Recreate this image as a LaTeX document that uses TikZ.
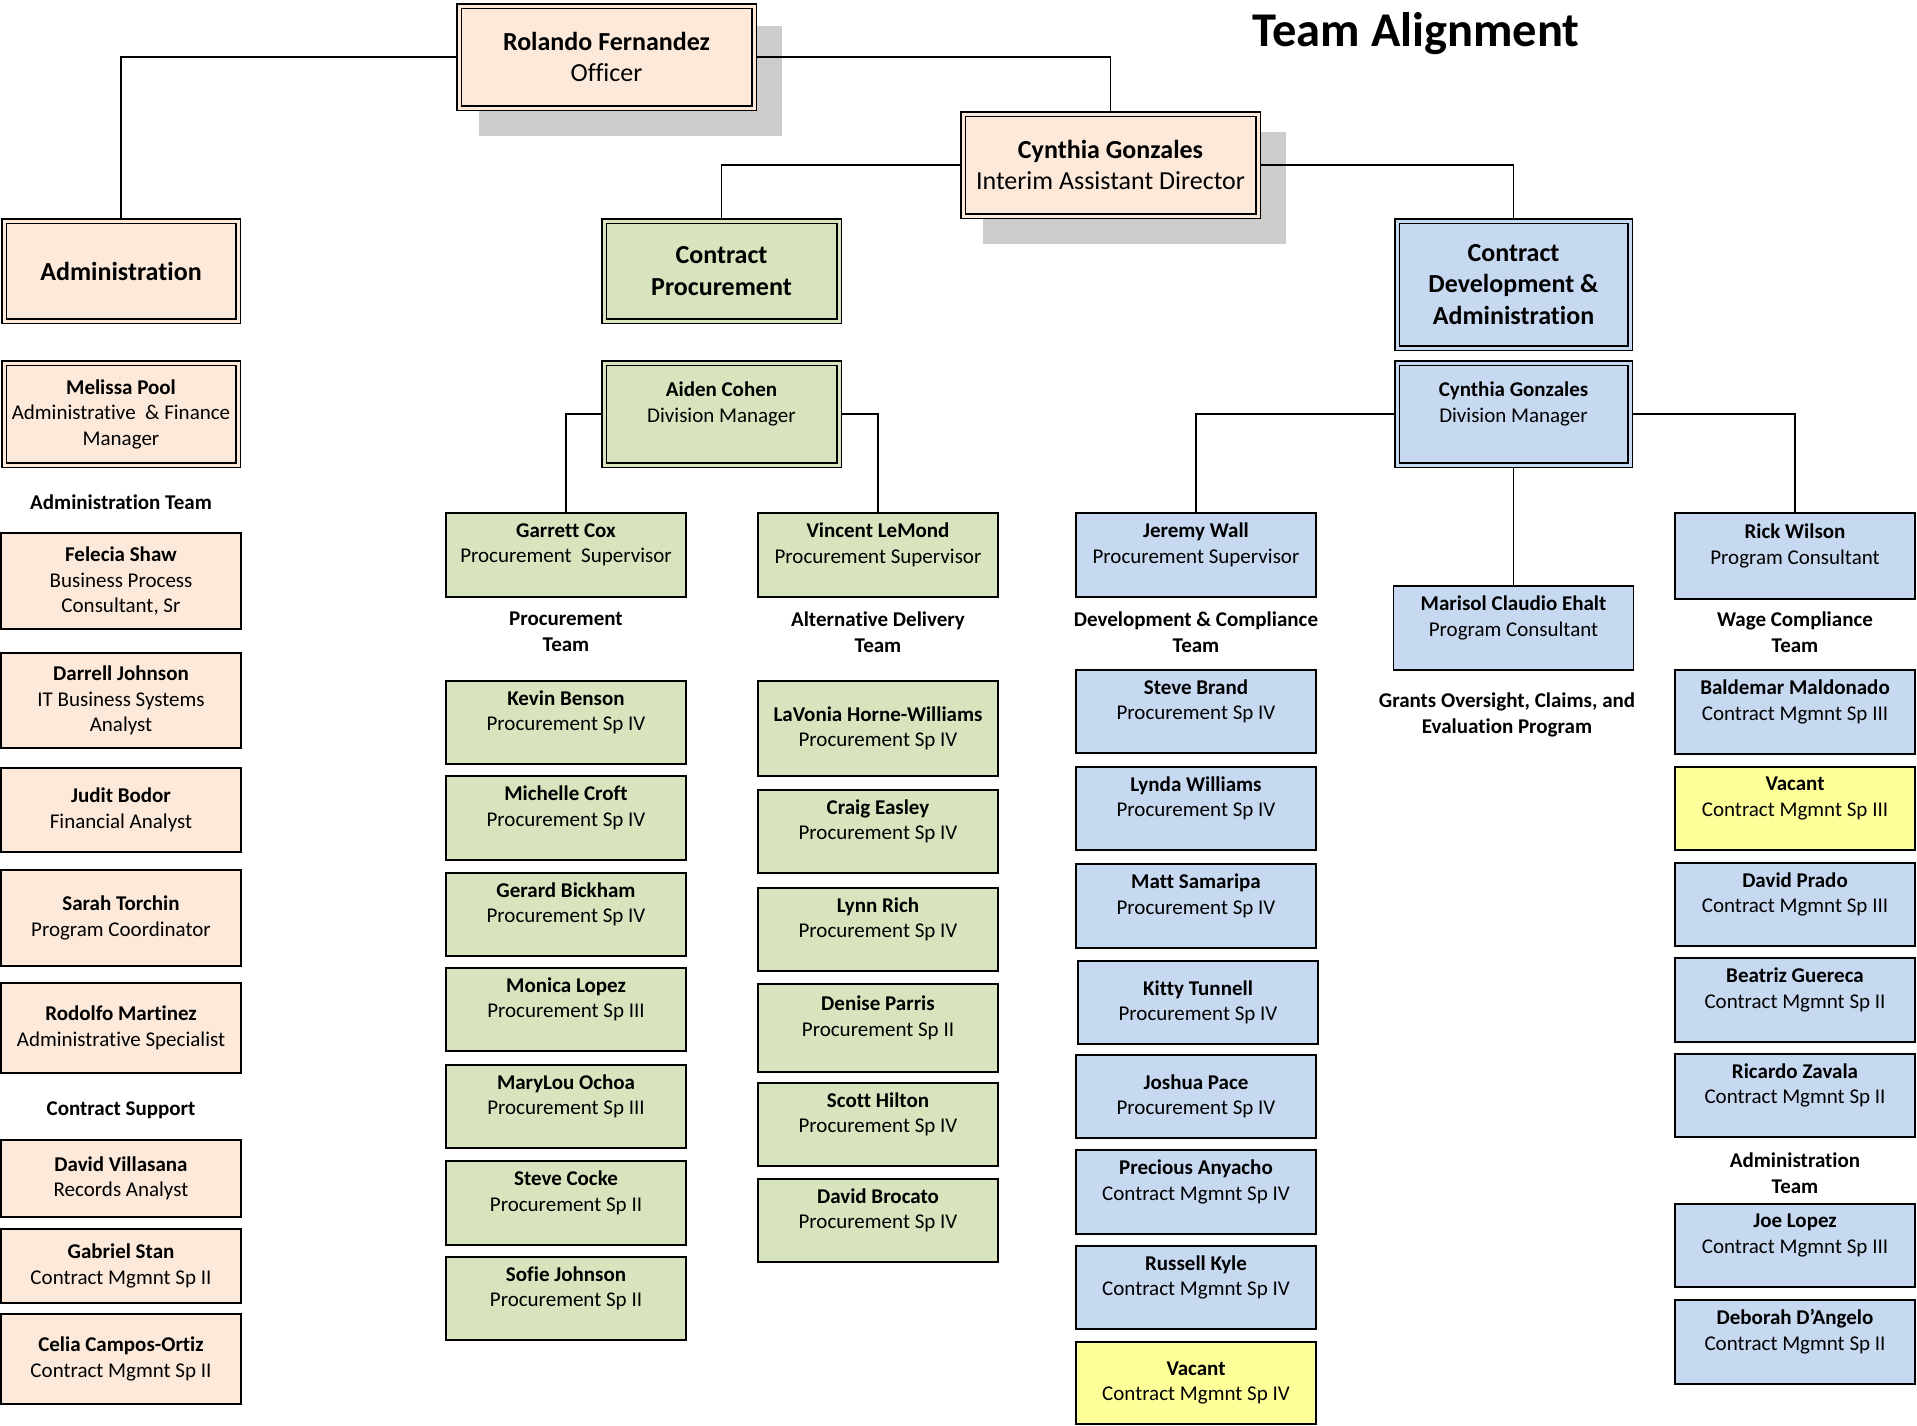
\documentclass[tikz,border=0pt]{standalone}
\usepackage{fontspec}
\setmainfont{Carlito}[Ligatures=NoCommon]
\usetikzlibrary{backgrounds}
\definecolor{peach}{HTML}{FCE9DA}
\definecolor{sage}{HTML}{D7E4BD}
\definecolor{sky}{HTML}{C6D9F1}
\definecolor{lemon}{HTML}{FFFF99}
\definecolor{shadowgray}{HTML}{CCCCCC}
\tikzset{
  card/.style={draw, line width=1.5pt, align=center, anchor=north, inner sep=0pt, outer sep=0pt,
    minimum width=240pt, minimum height=83pt, font=\fontsize{21}{25.5}\selectfont},
  head/.style={card, fill=#1, double=#1, line width=1.4pt, double distance=3pt},
  big/.style={font=\fontsize{26}{31.5}\selectfont},
  lift/.style={text depth=24pt},
  adm/.style={fill=peach},
  prc/.style={fill=sage},
  cdv/.style={fill=sky},
  vac/.style={fill=lemon},
  team/.style={align=center, font=\bfseries\fontsize{21}{25.5}\selectfont},
  link/.style={line width=1.5pt}
}
\begin{document}
\begin{tikzpicture}[x=1pt,y=-1pt]
\useasboundingbox (0,0) rectangle (1917,1425);
\node[font=\bfseries\fontsize{48.5}{54}\selectfont, anchor=base] (title) at (1416,46) {Team Alignment};
\node[head=peach, big, minimum width=295, minimum height=102] (ro) at (606.5,6) {\textbf{Rolando Fernandez}\\Officer};
\node[head=peach, big, minimum width=295, minimum height=102] (iad) at (1110.5,114) {\textbf{Cynthia Gonzales}\\Interim Assistant Director};
\node[head=peach, big, minimum width=234, minimum height=100] (adm) at (121,221) {\textbf{Administration}};
\node[head=sage, big, minimum width=235, minimum height=100] (cp) at (721.5,221) {\textbf{Contract}\\\textbf{Procurement}};
\node[head=sky, big, minimum width=233, minimum height=127] (cda) at (1513.5,221) {\textbf{Contract}\\\textbf{Development \&}\\\textbf{Administration}};
\node[head=peach, minimum width=234, minimum height=102] (mel) at (121,363) {\textbf{Melissa Pool}\\Administrative\ \ \& Finance\\Manager};
\node[head=sage, lift, minimum width=235, minimum height=102] (aid) at (721.5,363) {\textbf{Aiden Cohen}\\Division Manager};
\node[head=sky, lift, minimum width=233, minimum height=102] (cgd) at (1513.5,363) {\textbf{Cynthia Gonzales}\\Division Manager};

\node[team] (admteam) at (121,502) {Administration Team};
\node[card,adm,minimum height=96] (felecia) at (121,533) {\textbf{Felecia Shaw}\\Business Process\\Consultant, Sr};
\node[card,adm,minimum height=95] (darrell) at (121,653) {\textbf{Darrell Johnson}\\IT Business Systems\\Analyst};
\node[card,adm,minimum height=84] (judit) at (121,768) {\textbf{Judit Bodor}\\Financial Analyst};
\node[card,adm,minimum height=96] (sarah) at (121,870) {\textbf{Sarah Torchin}\\Program Coordinator};
\node[card,adm,minimum height=90] (rodolfo) at (121,983) {\textbf{Rodolfo Martinez}\\Administrative Specialist};
\node[team] (support) at (121,1110) {Contract Support};
\node[card,adm,minimum height=77] (villasana) at (121,1140) {\textbf{David Villasana}\\Records Analyst};
\node[card,adm,minimum height=74] (gabriel) at (121,1229) {\textbf{Gabriel Stan}\\Contract Mgmnt Sp II};
\node[card,adm,minimum height=90] (celia) at (121,1314) {\textbf{Celia Campos-Ortiz}\\Contract Mgmnt Sp II};

\node[card,prc,lift,minimum height=84] (garrett) at (566,513) {\textbf{Garrett Cox}\\Procurement\ \ Supervisor};
\node[team] (prcteam) at (566,632) {Procurement\\Team};
\node[card,prc,lift] (kevin) at (566,681) {\textbf{Kevin Benson}\\Procurement Sp IV};
\node[card,prc,lift,minimum height=84] (michelle) at (566,776) {\textbf{Michelle Croft}\\Procurement Sp IV};
\node[card,prc,lift] (gerard) at (566,873) {\textbf{Gerard Bickham}\\Procurement Sp IV};
\node[card,prc,lift] (monica) at (566,968) {\textbf{Monica Lopez}\\Procurement Sp III};
\node[card,prc,lift] (marylou) at (566,1065) {\textbf{MaryLou Ochoa}\\Procurement Sp III};
\node[card,prc,lift,minimum height=84] (stevec) at (566,1161) {\textbf{Steve Cocke}\\Procurement Sp II};
\node[card,prc,lift] (sofie) at (566,1257) {\textbf{Sofie Johnson}\\Procurement Sp II};

\node[card,prc,lift,minimum height=84] (vincent) at (878,513) {\textbf{Vincent LeMond}\\Procurement Supervisor};
\node[team] (altteam) at (878,632) {Alternative Delivery\\Team};
\node[card,prc,minimum height=95] (lavonia) at (878,681) {\textbf{LaVonia Horne-Williams}\\Procurement Sp IV};
\node[card,prc,lift] (craig) at (878,790) {\textbf{Craig Easley}\\Procurement Sp IV};
\node[card,prc,lift] (lynn) at (878,888) {\textbf{Lynn Rich}\\Procurement Sp IV};
\node[card,prc,lift,minimum height=88] (denise) at (878,984) {\textbf{Denise Parris}\\Procurement Sp II};
\node[card,prc,lift] (scott) at (878,1083) {\textbf{Scott Hilton}\\Procurement Sp IV};
\node[card,prc,lift] (brocato) at (878,1179) {\textbf{David Brocato}\\Procurement Sp IV};

\node[card,cdv,lift,minimum height=84] (jeremy) at (1196,513) {\textbf{Jeremy Wall}\\Procurement Supervisor};
\node[team] (devteam) at (1196,632) {Development \& Compliance\\Team};
\node[card,cdv,lift] (steveb) at (1196,670) {\textbf{Steve Brand}\\Procurement Sp IV};
\node[card,cdv,lift] (lynda) at (1196,767) {\textbf{Lynda Williams}\\Procurement Sp IV};
\node[card,cdv,lift,minimum height=84] (matt) at (1196,864) {\textbf{Matt Samaripa}\\Procurement Sp IV};
\node[card,cdv] (kitty) at (1198,961) {\textbf{Kitty Tunnell}\\Procurement Sp IV};
\node[card,cdv] (joshua) at (1196,1055) {\textbf{Joshua Pace}\\Procurement Sp IV};
\node[card,cdv,lift,minimum height=84] (precious) at (1196,1150) {\textbf{Precious Anyacho}\\Contract Mgmnt Sp IV};
\node[card,cdv,lift] (russell) at (1196,1246) {\textbf{Russell Kyle}\\Contract Mgmnt Sp IV};
\node[card,vac,minimum height=82] (vacantd) at (1196,1342) {\textbf{Vacant}\\Contract Mgmnt Sp IV};

\node[card,cdv,lift,minimum height=84] (marisol) at (1513.5,586) {\textbf{Marisol Claudio Ehalt}\\Program Consultant};
\node[team] (grants) at (1507,715) {Grants Oversight, Claims, and\\Evaluation Program};

\node[card,cdv,lift,minimum height=86] (rick) at (1795,513) {\textbf{Rick Wilson}\\Program Consultant};
\node[team] (wageteam) at (1795,632) {Wage Compliance\\Team};
\node[card,cdv,lift,minimum height=84] (baldemar) at (1795,670) {\textbf{Baldemar Maldonado}\\Contract Mgmnt Sp III};
\node[card,vac,lift] (vacantw) at (1795,767) {\textbf{Vacant}\\Contract Mgmnt Sp III};
\node[card,cdv,lift] (prado) at (1795,863) {\textbf{David Prado}\\Contract Mgmnt Sp III};
\node[card,cdv,lift,minimum height=84] (beatriz) at (1795,958) {\textbf{Beatriz Guereca}\\Contract Mgmnt Sp II};
\node[card,cdv,lift] (ricardo) at (1795,1054) {\textbf{Ricardo Zavala}\\Contract Mgmnt Sp II};
\node[team] (admteamr) at (1795,1173) {Administration\\Team};
\node[card,cdv,lift] (joe) at (1795,1204) {\textbf{Joe Lopez}\\Contract Mgmnt Sp III};
\node[card,cdv,lift,minimum height=84] (deborah) at (1795,1300) {\textbf{Deborah D’Angelo}\\Contract Mgmnt Sp II};

\begin{scope}[on background layer]
\fill[shadowgray] ([shift={(20,20)}]ro.north west) rectangle ([shift={(28,28)}]ro.south east);
\fill[shadowgray] ([shift={(20,18)}]iad.north west) rectangle ([shift={(28,28)}]iad.south east);
\draw[link] (ro.west) -| (adm.north);
\draw[link] (ro.east) -| (iad.north);
\draw[link] (iad.west) -| (cp.north);
\draw[link] (iad.east) -| (cda.north);
\draw[link] (aid.west) -| (garrett.north);
\draw[link] (aid.east) -| (vincent.north);
\draw[link] (cgd.west) -| (jeremy.north);
\draw[link] (cgd.east) -| (rick.north);
\draw[link] (cgd.south) -- (marisol.north);
\end{scope}
\end{tikzpicture}
\end{document}
